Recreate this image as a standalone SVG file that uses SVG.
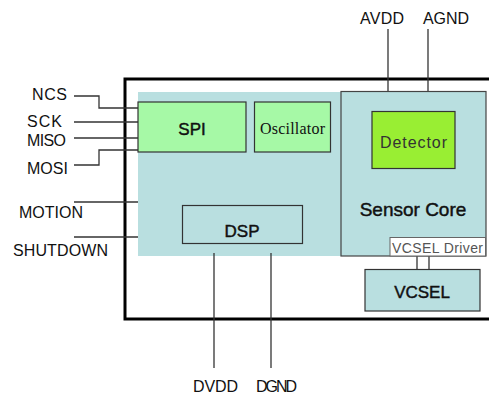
<svg xmlns="http://www.w3.org/2000/svg" width="489" height="395" viewBox="0 0 489 395">
<style>
.lbl{font-family:"Liberation Sans",Arial,sans-serif;font-size:16px;fill:#111}
.big{font-family:"Liberation Sans",Arial,sans-serif;font-size:17px;fill:#111;stroke:#111;stroke-width:0.45;text-anchor:middle}
.wire{fill:none;stroke:#333;stroke-width:1.3}
.blk{stroke:#333;stroke-width:1.2}
</style>
<rect width="489" height="395" fill="#fff"/>
<g id="chip">
<rect x="125" y="79" width="400" height="240" fill="none" stroke="#000" stroke-width="3"/>
<rect x="138" y="92" width="204" height="164" fill="#b9dfe0"/>
</g>
<g id="connectors">
<path class="wire" d="M74 96H99V108H138"/>
<path class="wire" d="M74 122H138"/>
<path class="wire" d="M74 138H138"/>
<path class="wire" d="M74 165H99V150H138"/>
<path class="wire" d="M74 202H138"/>
<path class="wire" d="M74 237H138"/>
<path class="wire" d="M388 29V92"/>
<path class="wire" d="M428 29V92"/>
<path class="wire" d="M214 253V368"/>
<path class="wire" d="M271 253V368"/>
<path class="wire" d="M417 256V270"/>
<path class="wire" d="M429 256V270"/>
</g>
<g id="labels">
<text class="lbl" x="32" y="100" textLength="35">NCS</text>
<text class="lbl" x="27" y="127" textLength="35">SCK</text>
<text class="lbl" x="27" y="146" textLength="39">MISO</text>
<text class="lbl" x="27" y="174" textLength="41">MOSI</text>
<text class="lbl" x="19" y="218" textLength="64">MOTION</text>
<text class="lbl" x="13" y="256" textLength="95">SHUTDOWN</text>
<text class="lbl" x="360" y="24" textLength="44">AVDD</text>
<text class="lbl" x="423" y="24" textLength="46">AGND</text>
<text class="lbl" x="193" y="392" textLength="45">DVDD</text>
<text class="lbl" x="256" y="392" textLength="41">DGND</text>
</g>
<g id="spi">
<rect class="blk" x="138" y="102" width="108" height="50" fill="#a6f9a6"/>
<text class="big" x="192" y="135">SPI</text>
</g>
<g id="oscillator">
<rect class="blk" x="254.5" y="102" width="76" height="50" fill="#a6f9a6"/>
<text x="260" y="134" font-family="'Liberation Serif','Times New Roman',serif" font-size="16" fill="#111" textLength="65">Oscillator</text>
</g>
<g id="dsp">
<rect class="blk" x="182.5" y="205.5" width="120" height="38" fill="#b9dfe0"/>
<text class="big" x="242" y="237">DSP</text>
</g>
<g id="sensor-core">
<rect x="341" y="91.5" width="145" height="164.5" fill="#b9dfe0" stroke="#444" stroke-width="1.2"/>
<text class="big" x="413" y="216" style="font-size:19px">Sensor Core</text>
</g>
<g id="detector">
<rect class="blk" x="372" y="111.5" width="83" height="57" fill="#99ee33"/>
<text x="380" y="148" font-family="'Liberation Sans',Arial,sans-serif" font-size="16" fill="#333" textLength="67">Detector</text>
</g>
<g id="vcsel-driver">
<rect x="390" y="237.5" width="95.5" height="18.5" fill="#fff" stroke="#666" stroke-width="1"/>
<text x="392" y="253" font-family="'Liberation Sans',Arial,sans-serif" font-size="14" fill="#555" textLength="91">VCSEL Driver</text>
</g>
<g id="vcsel">
<rect class="blk" x="365" y="269.5" width="115" height="41.5" fill="#b9dfe0"/>
<text class="big" x="422" y="298">VCSEL</text>
</g>
</svg>
